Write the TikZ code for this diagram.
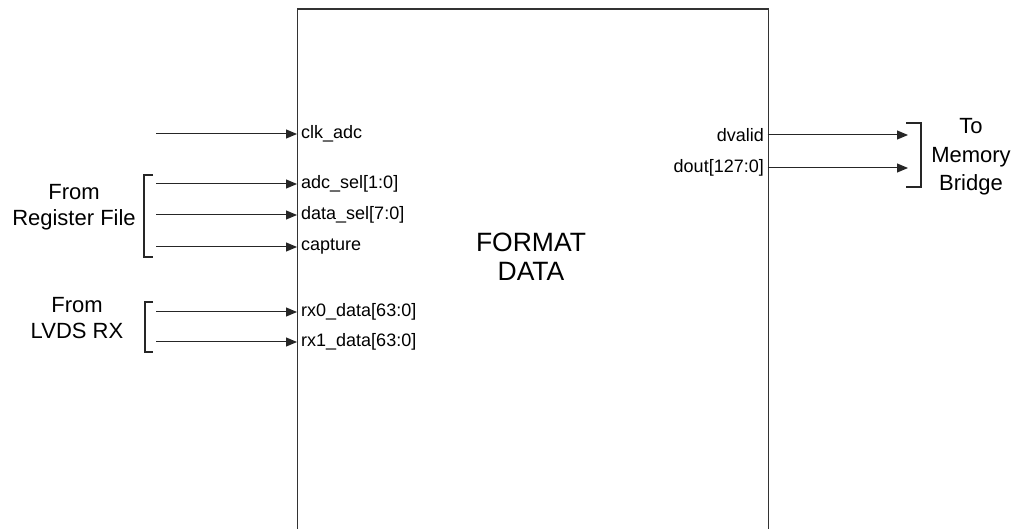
\documentclass[tikz,border=0pt]{standalone}
\usepackage{fontspec}
\setmainfont{Liberation Sans}
\usetikzlibrary{arrows.meta}
\begin{document}
\begin{tikzpicture}[x=1pt,y=-1pt,
  sig/.style={draw=black!85,line width=1pt,-{Triangle[length=11pt,width=9pt]}},
  brk/.style={draw=black!85,line width=1.2pt},
  port/.style={font=\fontsize{18}{20}\selectfont,inner sep=0pt},
  grp/.style={font=\fontsize{22}{26}\selectfont,align=center,inner sep=0pt},
  blk/.style={draw=black!80,line width=1.4pt,fill=none,inner sep=0pt}]
\useasboundingbox (0,0) rectangle (1015,529);
\node[blk,minimum width=470.5pt,minimum height=560pt,anchor=north west] (fmt) at (297,8.5) {};
\node[font=\fontsize{26.5}{29}\selectfont,align=center,inner sep=0pt] (title) at (531,257) {FORMAT\\DATA};
% inputs
\foreach \n/\y/\t in {clk/134/clk\_adc, adc/184/adc\_sel[1:0], dsel/215/data\_sel[7:0], cap/247/capture, rxa/312/rx0\_data[63:0], rxb/342/rx1\_data[63:0]}{
  \coordinate (s\n) at (156,\y);
  \coordinate (e\n) at (297,\y);
  \node[port,anchor=west] (l\n) at (301,\y) {\t};
  \draw[sig] (s\n) -- (e\n);
}
% outputs
\foreach \n/\y/\t in {dv/135/dvalid, dout/168/dout[127:0]}{
  \coordinate (s\n) at (767.5,\y);
  \coordinate (e\n) at (908,\y);
  \node[port,anchor=east] (l\n) at (764,\y) {\t};
  \draw[sig] (s\n) -- (e\n);
}
% brackets
\coordinate (b1a) at (153,175); \coordinate (b1b) at (153,257);
\draw[brk] (b1a) -- (144,175) -- (144,257) -- (b1b);
\coordinate (b2a) at (153,302); \coordinate (b2b) at (153,352);
\draw[brk] (b2a) -- (145,302) -- (145,352) -- (b2b);
\coordinate (b3a) at (906,123); \coordinate (b3b) at (906,187);
\draw[brk] (b3a) -- (921,123) -- (921,187) -- (b3b);
% group labels
\node[grp] (reg) at (74,207) {From\\Register File};
\node[grp] (lvds) at (77,318) {From\\LVDS RX};
\node[grp,font=\fontsize{22}{28.5}\selectfont] (mem) at (971,157) {To\\Memory\\Bridge};
\end{tikzpicture}
\end{document}
